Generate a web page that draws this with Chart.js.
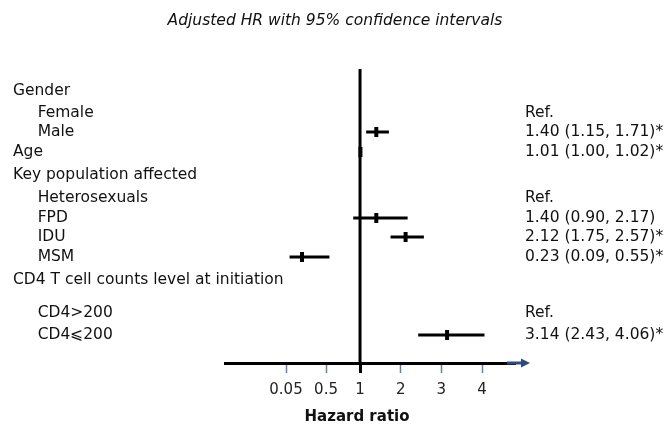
<!DOCTYPE html>
<html>
<head>
<meta charset="utf-8">
<script src="https://cdn.jsdelivr.net/npm/chart.js@4/dist/chart.umd.min.js"></script>
<style>
  html, body { margin: 0; padding: 0; background: #fff; }
  #wrap { width: 668px; height: 425px; position: relative; }
</style>
</head>
<body>
<div id="wrap"><canvas id="forest"></canvas></div>
<script>
// --- data ---
const rowLabels = ['Gender', 'Female', 'Male', 'Age', 'Key population affected', 'Heterosexuals',
                   'FPD', 'IDU', 'MSM', 'CD4 T cell counts level at initiation', 'CD4>200', 'CD4⩽200'];
const rowIndent = [0, 1, 1, 0, 0, 1, 1, 1, 1, 0, 1, 1];
const hrEstimate = [null, null, 1.40, 1.01, null, null, 1.40, 2.12, 0.23, null, null, 3.14];
const hrLower    = [null, null, 1.15, 1.00, null, null, 0.90, 1.75, 0.09, null, null, 2.43];
const hrUpper    = [null, null, 1.71, 1.02, null, null, 2.17, 2.57, 0.55, null, null, 4.06];
const resultText = ['', 'Ref.', '1.40 (1.15, 1.71)*', '1.01 (1.00, 1.02)*', '', 'Ref.',
                    '1.40 (0.90, 2.17)', '2.12 (1.75, 2.57)*', '0.23 (0.09, 0.55)*', '', 'Ref.', '3.14 (2.43, 4.06)*'];
const tickValues = [0.05, 0.5, 1, 2, 3, 4];
const tickLabels = ['0.05', '0.5', '1', '2', '3', '4'];

// --- layout: row slots (not evenly spaced in the original) ---
const rowSlot = [0, 1.1, 2.05, 3.05, 4.2, 5.35, 6.35, 7.3, 8.3, 9.45, 11.1, 12.2];
const ROW_MIN = -1.1;
const ROW_MAX = 13.6;

// the axis is broken below 1: 0.05 and 0.5 get their own stretch
const hrKnots  = [0.05, 0.5, 1, 4];
const posKnots = [-0.82, 0.164, 1, 4];

function piecewise(v, from, to) {
    const n = from.length - 1;
    if (v >= from[n]) {
        return to[n] + (v - from[n]) * (to[n] - to[n - 1]) / (from[n] - from[n - 1]);
    }
    if (v <= from[0]) {
        return to[0] + (v - from[0]) * (to[1] - to[0]) / (from[1] - from[0]);
    }
    for (let i = 0; i < n; i++) {
        if (v >= from[i] && v <= from[i + 1]) {
            return to[i] + (v - from[i]) * (to[i + 1] - to[i]) / (from[i + 1] - from[i]);
        }
    }
    return v;
}

class HazardScale extends Chart.LinearScale {
    getPixelForValue(value) {
        return super.getPixelForValue(piecewise(value, hrKnots, posKnots));
    }
    getValueForPixel(pixel) {
        return piecewise(super.getValueForPixel(pixel), posKnots, hrKnots);
    }
}
HazardScale.id = 'hazard';
HazardScale.defaults = Chart.LinearScale.defaults;

// row axis whose labels may run past its own box (long group headings)
class RowScale extends Chart.LinearScale {
    _computeLabelArea() { return undefined; }
}
RowScale.id = 'rows';
RowScale.defaults = Chart.LinearScale.defaults;

Chart.register(HazardScale, RowScale);

const FONT = "'DejaVu Sans', Verdana, sans-serif";

// CI whiskers, one short line per row
const ciSets = [];
hrEstimate.forEach((est, i) => {
    if (est === null) return;
    ciSets.push({
        type: 'line',
        data: [{ x: hrLower[i], y: rowSlot[i] }, { x: hrUpper[i], y: rowSlot[i] }],
        borderColor: '#000',
        borderWidth: 3,
        pointRadius: 0,
        showLine: true
    });
});

const estimatePoints = [];
hrEstimate.forEach((est, i) => {
    if (est !== null) estimatePoints.push({ x: est, y: rowSlot[i] });
});

// extras drawn on top: title, x title, arrow head
const decorations = {
    id: 'decorations',
    afterDraw(chart) {
        const ctx = chart.ctx;
        const area = chart.chartArea;
        ctx.save();
        ctx.fillStyle = '#111';
        ctx.textAlign = 'center';
        ctx.textBaseline = 'middle';
        ctx.font = 'italic 15.5px ' + FONT;
        ctx.fillText('Adjusted HR with 95% confidence intervals', 335, 21);
        ctx.font = 'bold 15px ' + FONT;
        ctx.fillText('Hazard ratio', 357, 417);

        // navy arrow at the end of the axis
        const y = area.bottom;
        ctx.strokeStyle = '#2f4a7e';
        ctx.lineWidth = 3;
        ctx.beginPath();
        ctx.moveTo(area.right - 8, y);
        ctx.lineTo(area.right + 8, y);
        ctx.stroke();
        ctx.fillStyle = '#2f4a7e';
        ctx.beginPath();
        ctx.moveTo(area.right + 15, y);
        ctx.lineTo(area.right + 6, y - 4.5);
        ctx.lineTo(area.right + 6, y + 4.5);
        ctx.closePath();
        ctx.fill();
        ctx.restore();
    }
};

const rowAxis = (labels, position, align, width) => ({
    type: 'rows',
    position: position,
    reverse: true,
    min: ROW_MIN,
    max: ROW_MAX,
    bounds: 'data',
    grid: { display: false, drawTicks: false },
    border: { display: false },
    afterBuildTicks: scale => { scale.ticks = rowSlot.map(v => ({ value: v })); },
    afterFit: scale => { scale.width = width; },
    ticks: {
        autoSkip: false,
        crossAlign: align,
        padding: 10,
        color: '#111',
        font: { family: FONT, size: 15.5 },
        callback: (value, index) => labels[index]
    }
});

new Chart(document.getElementById('forest'), {
    type: 'scatter',
    data: {
        datasets: [
            {
                type: 'line',
                data: [{ x: 1, y: ROW_MIN }, { x: 1, y: ROW_MAX }],
                borderColor: '#000',
                borderWidth: 3,
                pointRadius: 0,
                showLine: true
            },
            ...ciSets,
            {
                data: estimatePoints,
                pointStyle: 'line',
                rotation: 90,
                radius: 5,
                borderWidth: 4,
                borderColor: '#000',
                backgroundColor: '#000'
            }
        ]
    },
    options: {
        responsive: true,
        maintainAspectRatio: false,
        animation: false,
        layout: { padding: { left: 13, top: 69, right: 0, bottom: 0 } },
        plugins: {
            legend: { display: false },
            tooltip: { enabled: false },
            title: { display: false }
        },
        scales: {
            x: {
                type: 'hazard',
                min: -2.32,
                max: 4.81,
                bounds: 'data',
                afterBuildTicks: scale => { scale.ticks = tickValues.map(v => ({ value: v })); },
                afterFit: scale => { scale.height = 62; },
                grid: {
                    drawOnChartArea: false,
                    drawTicks: true,
                    tickLength: 10,
                    tickColor: c => (c.tick && c.tick.value === 1 ? '#000' : '#6b7fa6'),
                    tickWidth: c => (c.tick && c.tick.value === 1 ? 3 : 1.5)
                },
                border: { display: true, color: '#000', width: 3 },
                ticks: {
                    autoSkip: false,
                    maxRotation: 0,
                    padding: 8,
                    color: '#222',
                    font: { family: FONT, size: 15 },
                    callback: (value, index) => tickLabels[index]
                }
            },
            y: rowAxis(rowLabels.map((t, i) => (rowIndent[i] ? '     ' : '') + t), 'left', 'far', 212),
            y2: rowAxis(resultText, 'right', 'near', 153)
        }
    },
    plugins: [decorations]
});
</script>
</body>
</html>
